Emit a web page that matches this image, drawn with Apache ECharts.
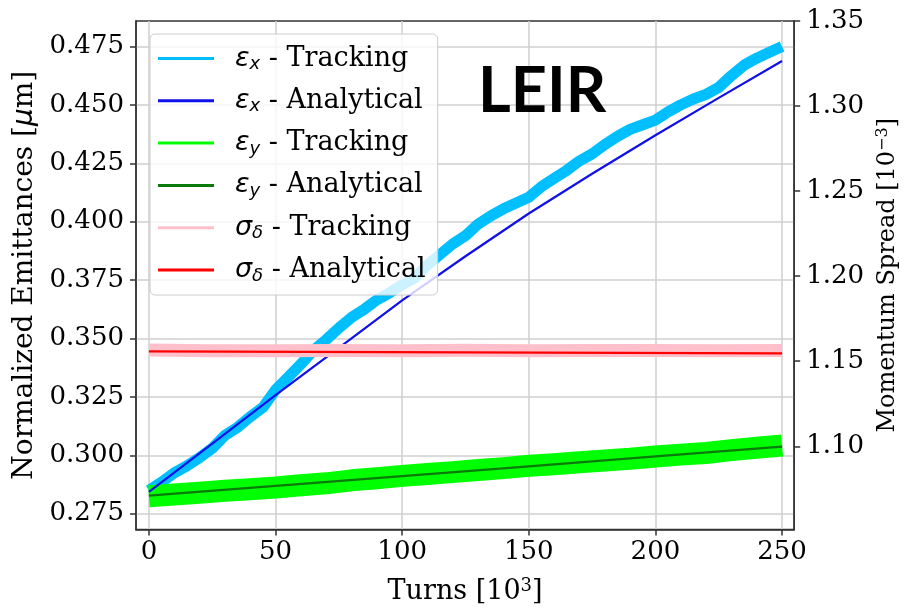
<!DOCTYPE html>
<html><head><meta charset="utf-8">
<script src="https://cdn.jsdelivr.net/npm/echarts@6/dist/echarts.min.js"></script>
<style>html,body{margin:0;padding:0;background:#fff}#c{width:908px;height:610px}</style>
</head><body><div id="c"></div>
<script>
// ---- tick values ----
const xTicks = [0, 50, 100, 150, 200, 250];
const leftTicks = [0.275, 0.300, 0.325, 0.350, 0.375, 0.400, 0.425, 0.450, 0.475];
const rightTicks = [1.10, 1.15, 1.20, 1.25, 1.30, 1.35];

// ---- eps_x tracking (um) ----
const exTrackTurns = [0,5,10,15,20,25,30,35,40,45,50,55,60,65,70,75,80,85,90,95,100,105,110,115,120,125,130,135,140,145,150,155,160,165,170,175,180,185,190,195,200,205,210,215,220,225,230,235,240,245,250];
const exTrackVals  = [0.2850,0.2885,0.2925,0.2955,0.2990,0.3030,0.3085,0.3120,0.3165,0.3205,0.3280,0.3335,0.3390,0.3450,0.3495,0.3545,0.3590,0.3625,0.3665,0.3695,0.3730,0.3760,0.3815,0.3860,0.3905,0.3940,0.3990,0.4025,0.4055,0.4080,0.4105,0.4150,0.4185,0.4220,0.4260,0.4290,0.4330,0.4365,0.4395,0.4415,0.4435,0.4470,0.4500,0.4525,0.4545,0.4575,0.4625,0.4670,0.4700,0.4725,0.4750];

// ---- eps_x analytical ----
const exAnaTurns = [0,25,50,75,100,125,150,175,200,225,250];
const exAnaVals  = [0.2843,0.3050,0.3258,0.3460,0.3663,0.3852,0.4035,0.4205,0.4370,0.4530,0.4688];

// ---- eps_y tracking ----
const eyTrackTurns = [0,10,20,30,40,50,60,70,80,90,100,110,120,130,140,150,160,170,180,190,200,210,220,230,240,250];
const eyTrackVals  = [0.2825,0.2832,0.2840,0.2848,0.2855,0.2862,0.2872,0.2880,0.2893,0.2902,0.2912,0.2920,0.2928,0.2937,0.2945,0.2955,0.2962,0.2970,0.2978,0.2985,0.2995,0.3003,0.3010,0.3022,0.3032,0.3042];

// ---- eps_y analytical ----
const eyAnaTurns = [0,50,100,150,200,250];
const eyAnaVals  = [0.2827,0.2869,0.2911,0.2953,0.2995,0.3037];

// ---- sigma_delta tracking (1e-3) ----
const sdTrackTurns = [0,25,50,75,100,125,150,175,200,225,250];
const sdTrackVals  = [1.1566,1.1562,1.1561,1.1563,1.1562,1.1564,1.1562,1.1563,1.1563,1.1562,1.1563];

// ---- sigma_delta analytical ----
const sdAnaTurns = [0,125,250];
const sdAnaVals  = [1.1558,1.1552,1.1546];

const zip = (a, b) => a.map((t, i) => [t, b[i]]);

const seriesNames = ['exT','exA','eyT','eyA','sdT','sdA'];
const legendText = {
  exT: '{g|ε}{s|x}{t| - Tracking}',
  exA: '{g|ε}{s|x}{t| - Analytical}',
  eyT: '{g|ε}{s|y}{t| - Tracking}',
  eyA: '{g|ε}{s|y}{t| - Analytical}',
  sdT: '{g|σ}{s|δ}{t| - Tracking}',
  sdA: '{g|σ}{s|δ}{t| - Analytical}'
};

const AX = '#333333';
const GRIDC = '#cfcfcf';
const SERIF = 'DejaVu Serif';

function lineSeries(name, data, color, width, yIdx, z) {
  return {
    name, type: 'line', data, yAxisIndex: yIdx, color,
    showSymbol: false, symbol: 'none', smooth: false, z,
    lineStyle: { color, width, join: 'round', cap: 'butt' },
    animation: false, silent: true
  };
}

const chart = echarts.init(document.getElementById('c'), null, { renderer: 'canvas' });
chart.setOption({
  animation: false,
  backgroundColor: '#ffffff',
  grid: { left: 136, right: 109, top: 21, bottom: 74, show: true, borderColor: AX, borderWidth: 1.5, backgroundColor: 'transparent' },
  graphic: [{
    type: 'text', left: 478, top: 60, z: 10,
    style: { text: 'LEIR', font: 'bold 63px Lato', fill: '#000' }
  }],
  legend: {
    orient: 'vertical', left: 150, top: 34,
    padding: [11, 12, 10, 8],
    itemWidth: 56, itemHeight: 3, itemGap: 13.8, icon: 'rect',
    backgroundColor: 'rgba(255,255,255,0.8)', borderColor: '#cccccc', borderWidth: 1, borderRadius: 5,
    data: seriesNames,
    formatter: n => legendText[n],
    textStyle: {
      color: '#000', fontFamily: SERIF, fontSize: 27, padding: [0, 0, 0, 16],
      rich: {
        g: { fontFamily: 'DejaVu Sans', fontStyle: 'italic', fontSize: 27, lineHeight: 30 },
        s: { fontFamily: 'DejaVu Sans', fontStyle: 'italic', fontSize: 18, lineHeight: 30, verticalAlign: 'bottom' },
        t: { fontFamily: SERIF, fontSize: 27, lineHeight: 30 }
      }
    }
  },
  xAxis: {
    type: 'value', min: -5.1, max: 254.8,
    name: '{t|Turns [10}{sup|3}{t|]}', nameLocation: 'middle', nameGap: 48,
    nameTextStyle: { rich: {
      t: { fontFamily: SERIF, fontSize: 27, color: '#000', lineHeight: 28 },
      sup: { fontFamily: SERIF, fontSize: 18, color: '#000', lineHeight: 28, verticalAlign: 'top' }
    } },
    axisLine: { show: true, onZero: false, lineStyle: { color: AX, width: 1.5 } },
    axisTick: { show: true, inside: false, length: 6, customValues: xTicks, lineStyle: { color: AX, width: 1.5 } },
    axisLabel: { customValues: xTicks, margin: 10, fontFamily: SERIF, fontSize: 26, color: '#000', formatter: v => String(Math.round(v)) },
    splitLine: { show: true, lineStyle: { color: GRIDC, width: 1.5 } }
  },
  yAxis: [{
    type: 'value', min: 0.26824, max: 0.4859, position: 'left',
    name: '{t|Normalized Emittances [}{i|μ}{t|m]}', nameLocation: 'middle', nameGap: 96,
    nameTextStyle: { rich: {
      t: { fontFamily: SERIF, fontSize: 28, color: '#000' },
      i: { fontFamily: 'DejaVu Sans', fontStyle: 'italic', fontSize: 28, color: '#000' }
    } },
    axisLine: { show: true, onZero: false, lineStyle: { color: AX, width: 1.5 } },
    axisTick: { show: true, length: 6, customValues: leftTicks, lineStyle: { color: AX, width: 1.5 } },
    axisLabel: { customValues: leftTicks, margin: 12, fontFamily: SERIF, fontSize: 26, color: '#000', formatter: v => v.toFixed(3) },
    splitLine: { show: true, lineStyle: { color: GRIDC, width: 1.5 } }
  }, {
    type: 'value', min: 1.0511, max: 1.35, position: 'right',
    name: '{t|Momentum Spread [10}{sup|−3}{t|]}', nameLocation: 'middle', nameGap: 80,
    nameTextStyle: { rich: {
      t: { fontFamily: SERIF, fontSize: 24, color: '#000', lineHeight: 26 },
      sup: { fontFamily: SERIF, fontSize: 16, color: '#000', lineHeight: 26, verticalAlign: 'top' }
    } },
    axisLine: { show: true, onZero: false, lineStyle: { color: AX, width: 1.5 } },
    axisTick: { show: true, length: 6, customValues: rightTicks, lineStyle: { color: AX, width: 1.5 } },
    axisLabel: { customValues: rightTicks, margin: 12, fontFamily: SERIF, fontSize: 26, color: '#000', formatter: v => v.toFixed(2) },
    splitLine: { show: false }
  }],
  series: [
    lineSeries('exT', zip(exTrackTurns, exTrackVals), '#00bfff', 11, 0, 2),
    lineSeries('exA', zip(exAnaTurns, exAnaVals), '#1010e8', 2.2, 0, 3),
    lineSeries('eyT', zip(eyTrackTurns, eyTrackVals), '#00ff00', 22, 0, 2),
    lineSeries('eyA', zip(eyAnaTurns, eyAnaVals), '#0a7a0a', 2.2, 0, 3),
    lineSeries('sdT', zip(sdTrackTurns, sdTrackVals), '#ffc0cb', 13, 1, 4),
    lineSeries('sdA', zip(sdAnaTurns, sdAnaVals), '#ff0000', 2.2, 1, 5)
  ]
});
</script>
</body></html>
